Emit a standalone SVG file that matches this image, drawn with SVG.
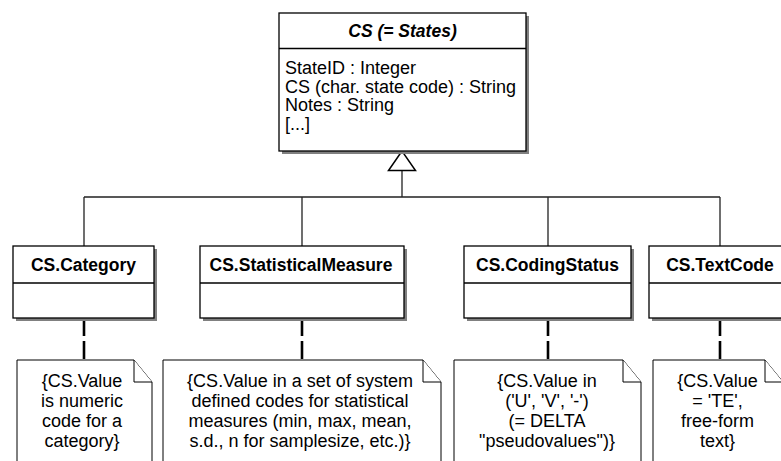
<svg xmlns="http://www.w3.org/2000/svg" width="781" height="461" viewBox="0 0 781 461">
<style>
  text { font-family: "Liberation Sans", Arial, sans-serif; font-size: 18px; fill: #000; }
  .hdr { font-weight: bold; text-anchor: middle; font-size: 17.5px; }
  .abs { font-style: italic; }
  .note text { text-anchor: middle; }
  .box { fill: #fff; stroke: #000; stroke-width: 1.3; }
  .shadow { fill: #808080; stroke: none; }
  .div { stroke: #000; stroke-width: 1.3; }
  .notebody { fill: #fff; stroke: #000; stroke-width: 1; }
  .tree { fill: none; stroke: #222; stroke-width: 1.3; }
  .dash { fill: none; stroke: #000; stroke-width: 2.6; stroke-dasharray: 18 5; }
</style>

<g id="connectors">
  <path class="tree" d="M402 170.5 V197 M84 197 H720 M84 197 V246 M302 197 V246 M548 197 V246 M720 197 V246"/>
  <polygon points="402,151 388.5,170.5 415.5,170.5" fill="#fff" stroke="#000" stroke-width="1.5"/>
  <line class="dash" x1="84" y1="318" x2="84" y2="360"/>
  <line class="dash" x1="302" y1="318" x2="302" y2="360"/>
  <line class="dash" x1="548" y1="318" x2="548" y2="360"/>
  <line class="dash" x1="720" y1="318" x2="720" y2="360"/>
</g>

<g id="cs-states">
  <rect class="shadow" x="282" y="16" width="247" height="138"/>
  <rect class="box" x="279" y="13" width="247" height="138"/>
  <line class="div" x1="279" y1="48.5" x2="526" y2="48.5"/>
  <text class="hdr abs" x="402.5" y="36.5">CS (= States)</text>
  <text x="285" y="74">StateID : Integer</text>
  <text x="285" y="92.7">CS (char. state code) : String</text>
  <text x="285" y="111.4">Notes : String</text>
  <text x="285" y="130.1">[...]</text>
</g>

<g id="cs-category">
  <rect class="shadow" x="16" y="249" width="141" height="72"/>
  <rect class="box" x="13" y="246" width="141" height="72"/>
  <line class="div" x1="13" y1="283" x2="154" y2="283"/>
  <text class="hdr" x="83.5" y="271">CS.Category</text>
</g>

<g id="cs-statisticalmeasure">
  <rect class="shadow" x="203" y="249" width="204" height="72"/>
  <rect class="box" x="200" y="246" width="204" height="72"/>
  <line class="div" x1="200" y1="283" x2="404" y2="283"/>
  <text class="hdr" x="301" y="271">CS.StatisticalMeasure</text>
</g>

<g id="cs-codingstatus">
  <rect class="shadow" x="467" y="249" width="167" height="72"/>
  <rect class="box" x="464" y="246" width="167" height="72"/>
  <line class="div" x1="464" y1="283" x2="631" y2="283"/>
  <text class="hdr" x="547.5" y="271">CS.CodingStatus</text>
</g>

<g id="cs-textcode">
  <rect class="shadow" x="652" y="249" width="142" height="72"/>
  <rect class="box" x="649" y="246" width="142" height="72"/>
  <line class="div" x1="649" y1="283" x2="791" y2="283"/>
  <text class="hdr" x="720" y="271">CS.TextCode</text>
</g>

<g id="note-category" class="note">
  <path class="notebody" d="M17 470 V360 H134 L152 382 V470 Z"/>
  <path class="notebody" d="M134 360 V382 H152" fill="none"/>
  <text x="82" y="387">{CS.Value</text>
  <text x="82" y="407">is numeric</text>
  <text x="82" y="427">code for a</text>
  <text x="82" y="447">category}</text>
</g>

<g id="note-statisticalmeasure" class="note">
  <path class="notebody" d="M163 470 V360 H423 L441 382 V470 Z"/>
  <path class="notebody" d="M423 360 V382 H441" fill="none"/>
  <text x="300" y="387">{CS.Value in a set of system</text>
  <text x="300" y="407">defined codes for statistical</text>
  <text x="300" y="427">measures (min, max, mean,</text>
  <text x="300" y="447">s.d., n for samplesize, etc.)}</text>
</g>

<g id="note-codingstatus" class="note">
  <path class="notebody" d="M454 470 V360 H623 L641 382 V470 Z"/>
  <path class="notebody" d="M623 360 V382 H641" fill="none"/>
  <text x="547" y="387">{CS.Value in</text>
  <text x="547" y="407">('U', 'V', '-')</text>
  <text x="547" y="427">(= DELTA</text>
  <text x="547" y="447">"pseudovalues")}</text>
</g>

<g id="note-textcode" class="note">
  <path class="notebody" d="M653 470 V360 H765 L783 382 V470 Z"/>
  <path class="notebody" d="M765 360 V382 H783" fill="none"/>
  <text x="717.5" y="387">{CS.Value</text>
  <text x="717.5" y="407">= 'TE',</text>
  <text x="717.5" y="427">free-form</text>
  <text x="717.5" y="447">text}</text>
</g>
</svg>
